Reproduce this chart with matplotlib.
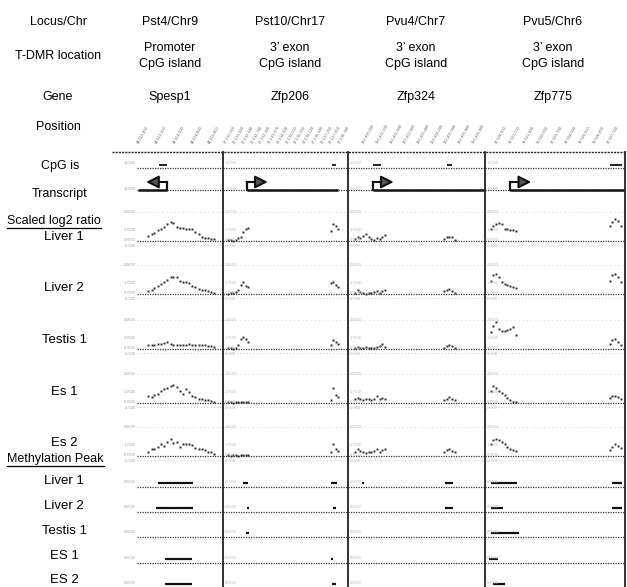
import matplotlib
matplotlib.use("Agg")
import matplotlib.pyplot as plt
from matplotlib.patches import FancyArrowPatch, ArrowStyle
from matplotlib.lines import Line2D

plt.rcParams['font.family'] = ['Liberation Sans', 'DejaVu Sans']

W, H = 627, 587
fig = plt.figure(figsize=(W / 100, H / 100), dpi=100)

# ---------------- data ----------------
loci = ["Pst4/Chr9", "Pst10/Chr17", "Pvu4/Chr7", "Pvu5/Chr6"]
tdmr = ["Promoter\nCpG island", "3\u2019 exon\nCpG island", "3\u2019 exon\nCpG island", "3\u2019 exon\nCpG island"]
genes = ["Spesp1", "Zfp206", "Zfp324", "Zfp775"]

ratio_samples = ["Liver 1", "Liver 2", "Testis 1", "Es 1", "Es 2"]
meth_samples = ["Liver 1", "Liver 2", "Testis 1", "ES 1", "ES 2"]

# probe positions (relative position within each locus window, 0-100)
p1_x = [13, 17, 20, 24, 28, 31, 35, 39, 42, 46, 50, 53, 57, 61, 64, 68, 72, 75, 79, 83, 86, 90]
p2_x = [4, 6, 8, 10, 12, 14, 16, 18, 20, 86, 88, 90, 92]
p3_x = [5, 7, 9, 11, 13, 15, 17, 19, 21, 23, 25, 27, 70, 72, 74, 76, 78]
p4_x = [4, 6, 8, 10, 12, 14, 16, 18, 20, 22, 89, 91, 93, 95, 97]

# scaled log2 ratios
p1_liver1 = [0.35, 0.45, 0.55, 0.75, 0.85, 0.95, 1.15, 1.3, 1.25, 0.95, 0.9, 0.9, 0.85, 0.85, 0.8, 0.6, 0.45, 0.3, 0.2, 0.2, 0.15, 0.15]
p1_liver2 = [0.2, 0.3, 0.4, 0.55, 0.7, 0.85, 1.0, 1.15, 1.15, 1.15, 0.9, 0.85, 0.85, 0.75, 0.55, 0.45, 0.35, 0.3, 0.25, 0.2, 0.15, 0.1]
p1_testis1 = [0.25, 0.3, 0.3, 0.35, 0.35, 0.4, 0.45, 0.35, 0.3, 0.3, 0.3, 0.3, 0.3, 0.35, 0.3, 0.3, 0.3, 0.3, 0.25, 0.2, 0.2, 0.15]
p1_es1 = [0.5, 0.4, 0.55, 0.6, 0.8, 0.95, 1.05, 1.2, 1.25, 1.1, 0.85, 0.65, 0.95, 0.75, 0.5, 0.4, 0.3, 0.25, 0.2, 0.2, 0.15, 0.1]
p1_es2 = [0.3, 0.45, 0.5, 0.65, 0.8, 0.7, 0.95, 1.2, 0.9, 1.0, 0.6, 0.85, 0.85, 0.8, 0.75, 0.55, 0.5, 0.45, 0.4, 0.3, 0.25, 0.15]

p2_liver1 = [0.1, 0.05, 0.0, 0.05, 0.2, 0.3, 0.6, 0.8, 0.9, 0.7, 1.15, 1.0, 0.85]
p2_liver2 = [0.0, 0.05, 0.1, 0.15, 0.3, 0.6, 0.8, 0.55, 0.45, 0.75, 0.85, 0.6, 0.5]
p2_testis1 = [0.07, 0.05, 0.02, 0.1, 0.3, 0.7, 0.85, 0.7, 0.5, 0.3, 0.6, 0.45, 0.35]
p2_es1 = [0.05, 0.05, 0.0, 0.05, 0.05, 0.05, 0.1, 0.05, 0.05, 0.2, 1.05, 0.55, 0.4]
p2_es2 = [0.05, 0.0, 0.05, 0.05, 0.0, 0.05, 0.05, 0.05, 0.05, 0.3, 0.8, 0.5, 0.35]

p3_liver1 = [0.15, 0.3, 0.2, 0.35, 0.45, 0.3, 0.15, 0.1, 0.2, 0.15, 0.3, 0.4, 0.15, 0.25, 0.3, 0.25, 0.1]
p3_liver2 = [0.1, 0.25, 0.15, 0.05, 0.0, 0.1, 0.05, 0.15, 0.2, 0.1, 0.2, 0.3, 0.2, 0.3, 0.35, 0.2, 0.1]
p3_testis1 = [0.1, 0.15, 0.05, 0.1, 0.15, 0.1, 0.05, 0.1, 0.15, 0.2, 0.35, 0.15, 0.1, 0.2, 0.3, 0.2, 0.1]
p3_es1 = [0.25, 0.35, 0.3, 0.2, 0.3, 0.25, 0.2, 0.3, 0.45, 0.3, 0.35, 0.3, 0.2, 0.3, 0.4, 0.3, 0.2]
p3_es2 = [0.3, 0.45, 0.35, 0.3, 0.2, 0.3, 0.25, 0.35, 0.45, 0.3, 0.4, 0.5, 0.3, 0.4, 0.5, 0.35, 0.25]

p4_liver1 = [0.8, 1.05, 1.2, 1.25, 1.15, 0.85, 0.8, 0.75, 0.75, 0.7, 1.0, 1.3, 1.5, 1.35, 1.0]
p4_liver2 = [0.9, 1.3, 1.4, 1.2, 0.8, 0.7, 0.6, 0.55, 0.45, 0.4, 0.9, 1.3, 1.4, 1.15, 0.8]
p4_testis1 = [1.15, 1.6, 1.85, 1.4, 1.25, 1.25, 1.3, 1.4, 1.55, 1.0, 0.35, 0.65, 0.7, 0.45, 0.3]
p4_es1 = [0.8, 1.15, 1.05, 0.8, 0.7, 0.55, 0.35, 0.2, 0.1, 0.05, 0.35, 0.45, 0.5, 0.4, 0.3]
p4_es2 = [0.85, 1.1, 1.2, 1.1, 1.0, 0.85, 0.65, 0.5, 0.4, 0.35, 0.4, 0.65, 0.8, 0.7, 0.55]

probe_x = [p1_x, p2_x, p3_x, p4_x]
ratios = [
    [p1_liver1, p1_liver2, p1_testis1, p1_es1, p1_es2],
    [p2_liver1, p2_liver2, p2_testis1, p2_es1, p2_es2],
    [p3_liver1, p3_liver2, p3_testis1, p3_es1, p3_es2],
    [p4_liver1, p4_liver2, p4_testis1, p4_es1, p4_es2],
]

# CpG islands (locus index, start, end)
cpg_locus = [0, 1, 2, 2, 3]
cpg_start = [26, 87, 18, 72, 89]
cpg_end = [35, 90, 24, 76, 98]

# transcripts (start, end, TSS, strand)
tx_start = [1, 19, 18, 18]
tx_end = [35, 92, 100, 100]
tx_tss = [35, 19, 18, 18]
tx_strand = [-1, 1, 1, 1]

# methylation peaks (locus index, sample index, start, end)
mp_locus = [0, 0, 0, 0, 1, 1, 1, 1, 1, 1, 1, 2, 2, 2, 3, 3, 3, 3, 3, 3, 3]
mp_sample = [0, 1, 3, 4, 0, 0, 1, 1, 2, 3, 4, 0, 0, 1, 0, 0, 1, 1, 2, 3, 4]
mp_start = [24, 22, 33, 33, 16, 86, 19, 88, 18, 86, 87, 10, 71, 71, 4, 91, 4, 91, 4, 3, 6]
mp_end = [65, 65, 64, 64, 20, 91, 21, 90, 21, 88, 90, 12, 77, 77, 23, 98, 13, 98, 24, 9, 14]

# probe position labels (illegible in the source, approximate)
pos_x = [
    [3, 24, 45, 66, 85],
    [3, 10, 17, 24, 31, 38, 45, 52, 59, 66, 73, 80, 87, 94],
    [12, 22, 32, 42, 52, 62, 72, 82, 92],
    [9, 19, 29, 39, 49, 59, 69, 79, 89],
]
pos_labels = [
    ["44,112,400", "44,113,200", "44,114,100", "44,114,900", "44,115,800"],
    ["27,131,050", "27,131,620", "27,132,180", "27,132,740", "27,133,300", "27,133,870",
     "27,134,430", "27,135,000", "27,135,560", "27,136,120", "27,136,690", "27,137,250",
     "27,137,810", "27,138,380"],
    ["132,410,200", "132,411,000", "132,411,800", "132,412,600", "132,413,400",
     "132,414,200", "132,415,000", "132,415,800", "132,416,600"],
    ["38,520,100", "38,521,000", "38,521,900", "38,522,800", "38,523,700",
     "38,524,600", "38,525,500", "38,526,400", "38,527,300"],
]

# ---------------- layout (pixels) ----------------
panel_px = [137, 223, 348, 485, 625]
head_cx = [170, 290, 416, 553]
top_line = 152
lab_x = 64
cpg_base, tx_base = 168, 190
ratio_base = [241, 294, 349, 403, 456]
ratio_lab = [237, 288, 340, 392, 443]
meth_base = [487, 512, 537, 563, 588]
meth_lab = [481, 506, 531, 556, 580]

PXU = 14.5   # pixels per ratio unit


def fx(x):
    return x / W


def fy(y):
    return 1 - y / H


def pax(p, ytop, ybot):
    x0, x1 = panel_px[p], panel_px[p + 1]
    ax = fig.add_axes([fx(x0), fy(ybot), (x1 - x0) / W, (ybot - ytop) / H])
    ax.set_xlim(0, 100)
    ax.set_axis_off()
    return ax


def baseline(ax):
    ax.axhline(0, color='#333333', lw=0.9, ls=(0, (1, 1)))


def tiny(ax, p, items):
    for s, v in items:
        if p == 0:
            ax.text(-2, v, s, ha='right', va='center', fontsize=2.8, color='#9a9a9a')
        else:
            ax.text(1.5, v, s, ha='left', va='center', fontsize=2.8, color='#b8b8b8')


# header text
fig.text(fx(58), fy(22), "Locus/Chr", ha='center', va='center', fontsize=9)
fig.text(fx(58), fy(56), "T-DMR location", ha='center', va='center', fontsize=9)
fig.text(fx(58), fy(97), "Gene", ha='center', va='center', fontsize=9)
fig.text(fx(58), fy(127), "Position", ha='center', va='center', fontsize=9)
for i in range(4):
    fig.text(fx(head_cx[i]), fy(22), loci[i], ha='center', va='center', fontsize=9)
    fig.text(fx(head_cx[i]), fy(56), tdmr[i], ha='center', va='center', fontsize=9, linespacing=1.4)
    fig.text(fx(head_cx[i]), fy(97), genes[i], ha='center', va='center', fontsize=9)

# row labels
fig.text(fx(60), fy(166), "CpG is", ha='center', va='center', fontsize=9)
fig.text(fx(60), fy(194), "Transcript", ha='center', va='center', fontsize=9)
t1 = fig.text(fx(7), fy(221), "Scaled log2 ratio", ha='left', va='center', fontsize=9)
for s, y in zip(ratio_samples, ratio_lab):
    fig.text(fx(lab_x), fy(y), s, ha='center', va='center', fontsize=9.5)
t2 = fig.text(fx(7), fy(459), "Methylation Peak", ha='left', va='center', fontsize=9)
for s, y in zip(meth_samples, meth_lab):
    fig.text(fx(lab_x), fy(y), s, ha='center', va='center', fontsize=9.5)

# position labels
for p in range(4):
    ax = pax(p, 105, 150)
    ax.set_ylim(0, 1)
    for x, s in zip(pos_x[p], pos_labels[p]):
        ax.text(x, 0.12, s, rotation=60, ha='left', va='bottom', fontsize=2.9,
                color='#6a6a6a', rotation_mode='anchor')

# top border
fig.add_artist(Line2D([fx(112), fx(panel_px[-1])], [fy(top_line)] * 2,
                      color='#222222', lw=1.0, ls=(0, (1.5, 0.8))))

for p in range(4):
    # CpG island track
    ax = pax(p, cpg_base - 12, cpg_base + 4)
    ax.set_ylim(-1, 3)
    baseline(ax)
    tiny(ax, p, [("1.0000", 1.2)])
    for lc, s, e in zip(cpg_locus, cpg_start, cpg_end):
        if lc == p:
            ax.plot([s, e], [0.8, 0.8], color='#222222', lw=1.4, solid_capstyle='butt')

    # transcript track
    ax = pax(p, tx_base - 16, tx_base + 4)
    ax.set_ylim(-1, 4)
    baseline(ax)
    tiny(ax, p, [("1.0000", 0.3)])
    ax.plot([tx_start[p], tx_end[p]], [0, 0], color='#111111', lw=1.8, solid_capstyle='butt')
    ax.plot([tx_tss[p], tx_tss[p]], [0, 2], color='#111111', lw=1.6)
    pxu = (panel_px[p + 1] - panel_px[p]) / 100.0
    head = tx_tss[p] + tx_strand[p] * 21 / pxu
    arr = FancyArrowPatch((tx_tss[p], 2), (head, 2),
                          arrowstyle=ArrowStyle("-|>", head_length=0.75, head_width=0.38),
                          mutation_scale=10, lw=1.5, ec='#111111', fc='#555555',
                          shrinkA=0, shrinkB=0)
    ax.add_patch(arr)

    # ratio tracks
    for r in range(5):
        b = ratio_base[r]
        ax = pax(p, b - 36, b + 8)
        ax.set_ylim(-8 / PXU, 36 / PXU)
        baseline(ax)
        ax.axhline(2.0, color='#c8c8c8', lw=0.6, ls=(0, (1, 4)))
        ax.axhline(-0.3, color='#c0c0c0', lw=0.6, ls=(0, (1, 3)))
        tiny(ax, p, [("2.0000", 2.0), ("1.7500", 0.75), ("0.7500", 0.1), ("-0.500", -0.35)])
        ax.plot(probe_x[p], ratios[p][r], ls='none', marker='s', ms=1.4,
                color='#2a2a2a', mew=0)

    # methylation peak tracks
    for r in range(5):
        b = meth_base[r]
        ax = pax(p, b - 12, b + 4)
        ax.set_ylim(-1, 3)
        baseline(ax)
        tiny(ax, p, [("0.5000", 1.2)])
        for lc, sm, s, e in zip(mp_locus, mp_sample, mp_start, mp_end):
            if lc == p and sm == r:
                ax.plot([s, e], [1.0, 1.0], color='#111111', lw=1.6, solid_capstyle='butt')

# vertical separators
for x in panel_px[1:]:
    fig.add_artist(Line2D([fx(x)] * 2, [fy(top_line), fy(H)], color='#222222', lw=1.3))

# underline section headings
fig.canvas.draw()
rend = fig.canvas.get_renderer()
for t in (t1, t2):
    bb = t.get_window_extent(rend)
    fig.add_artist(Line2D([bb.x0 / W, bb.x1 / W], [(bb.y0 - 1) / H] * 2, color='black', lw=0.9))

fig.savefig("out.png", dpi=100)
